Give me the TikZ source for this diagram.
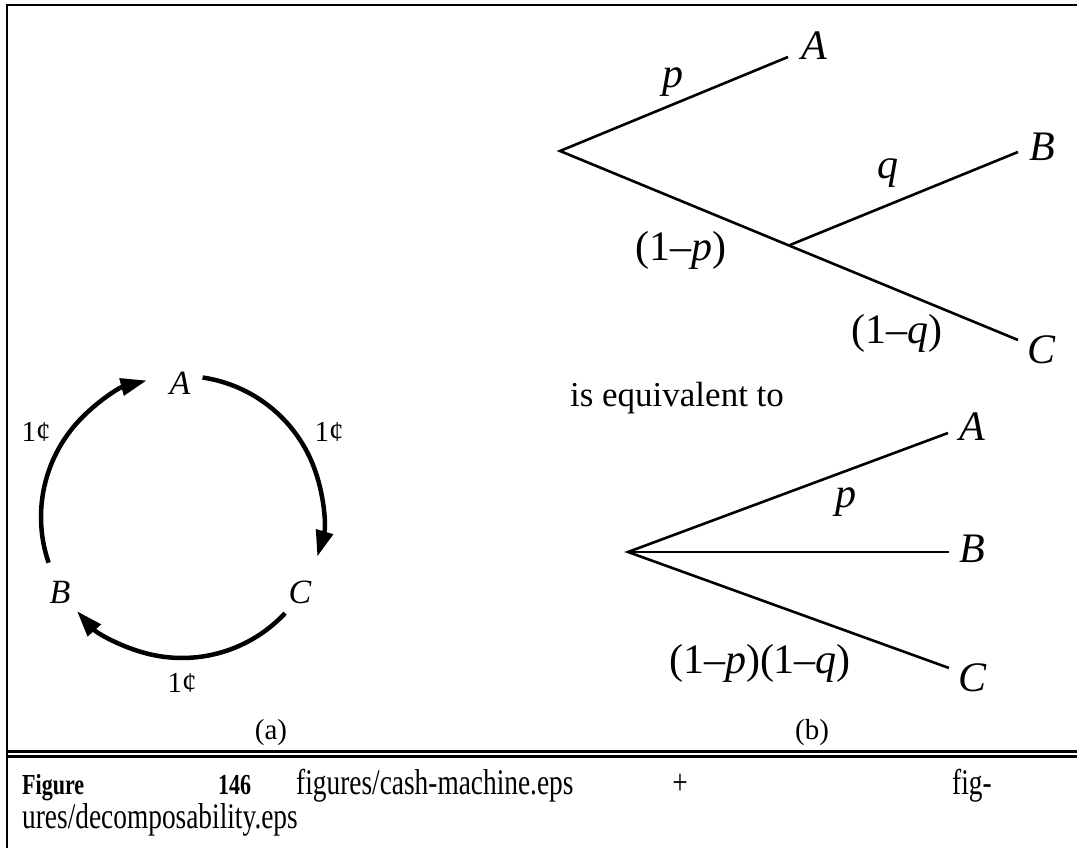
\documentclass[tikz,border=0pt]{standalone}
\usepackage{fontspec}
\setmainfont{Liberation Serif}
\newfontfamily\capfont[FakeStretch=0.76]{Liberation Serif}
\usetikzlibrary{arrows.meta}
\begin{document}
\begin{tikzpicture}[x=1pt,y=1pt,
  frame/.style={line width=2.2pt},
  arcarrow/.style={line width=4.5pt,-{Triangle[length=26pt,width=17pt]}},
  branch/.style={line width=2.6pt},
  treelbl/.style={inner sep=0pt,font=\fontsize{42}{46}\selectfont},
  eqlbl/.style={inner sep=0pt,font=\fontsize{35}{40}\selectfont},
  circlbl/.style={inner sep=0pt,font=\fontsize{34}{38}\selectfont},
  centlbl/.style={inner sep=0pt,font=\fontsize{29}{32}\selectfont},
  sublbl/.style={inner sep=0pt,font=\fontsize{29}{32}\selectfont},
  captxt/.style={inner sep=0pt,anchor=base west,font=\capfont\fontsize{36}{40}\selectfont},
  capbold/.style={inner sep=0pt,anchor=base west,font=\capfont\bfseries\fontsize{29}{32}\selectfont}]
\useasboundingbox (0,0) rectangle (1077,848);
% frame
\draw[frame] (7,-5) -- (7,843) -- (1082,843);
\draw[frame] (7,96.5) -- (1082,96.5);
\draw[frame] (7,91.5) -- (1082,91.5);
% (a) cycle
\coordinate (O) at (182,331);
\draw[arcarrow] ([shift={(81.6:141)}]O) arc[start angle=81.6,end angle=-16.3,radius=141];
\draw[arcarrow] ([shift={(198.9:141)}]O) arc[start angle=198.9,end angle=104.5,radius=141];
\draw[arcarrow] ([shift={(-43:141)}]O) arc[start angle=-43,end angle=-138.1,radius=141];
\node[circlbl] (cA) at (180,465) {\textit{A}};
\node[circlbl] (cB) at (60,256) {\textit{B}};
\node[circlbl] (cC) at (300,256) {\textit{C}};
\node[centlbl] (m1) at (36,416) {1¢};
\node[centlbl] (m2) at (329,416) {1¢};
\node[centlbl] (m3) at (182,165) {1¢};
\node[sublbl] (sa) at (271,115) {(a)};
% (b) top tree
\coordinate (V1) at (560,697);
\coordinate (A1) at (788,791);
\coordinate (J1) at (790,603);
\coordinate (B1) at (1018,696);
\coordinate (C1) at (1018,508);
\draw[branch] (A1) -- (V1) -- (C1);
\draw[branch] (J1) -- (B1);
\node[treelbl] (tA) at (814,802) {\textit{A}};
\node[treelbl] (tB) at (1042,701) {\textit{B}};
\node[treelbl] (tC) at (1042,498) {\textit{C}};
\node[treelbl] (tp) at (673,766) {\textit{p}};
\node[treelbl] (tq) at (888,675) {\textit{q}};
\node[treelbl] (tnp) at (681,598) {(1–\textit{p})};
\node[treelbl] (tnq) at (897,515) {(1–\textit{q})};
% (b) bottom tree
\node[eqlbl] (eq) at (677,450) {is equivalent to};
\coordinate (V2) at (628,296);
\coordinate (A2) at (948,415);
\coordinate (B2) at (949,296);
\coordinate (C2) at (949,180);
\draw[branch] (A2) -- (V2) -- (C2);
\draw[branch] (V2) -- (B2);
\node[treelbl] (bA) at (972,421) {\textit{A}};
\node[treelbl] (bB) at (972,299) {\textit{B}};
\node[treelbl] (bC) at (973,170) {\textit{C}};
\node[treelbl] (bp) at (846,346) {\textit{p}};
\node[treelbl] (bpq) at (760,185) {(1–\textit{p})(1–\textit{q})};
\node[sublbl] (sb) at (812,115) {(b)};
% caption
\node[capbold] (f1) at (22,53) {Figure};
\node[capbold] (f2) at (218,53) {146};
\node[captxt] (f3) at (296,53) {figures/cash-machine.eps};
\node[captxt,anchor=base] (f4) at (680,53) {+};
\node[captxt] (f5) at (952,53) {fig-};
\node[captxt] (f6) at (22,19) {ures/decomposability.eps};
\end{tikzpicture}
\end{document}
